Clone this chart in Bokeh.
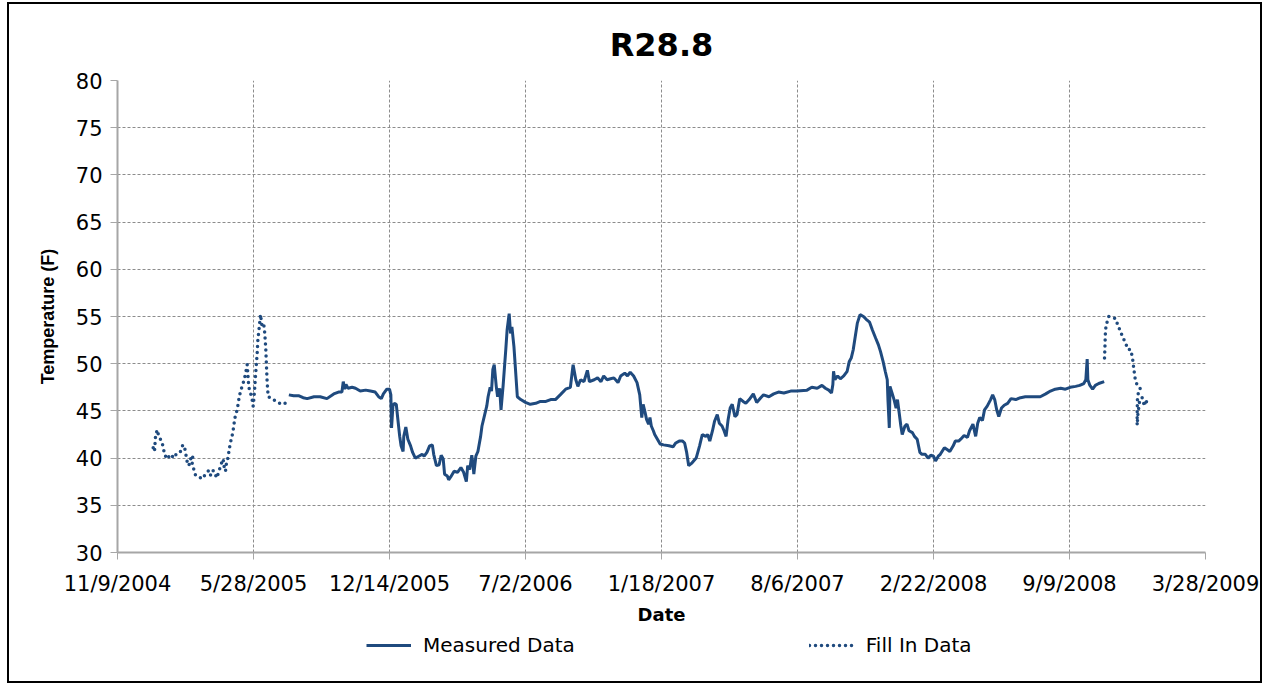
import pandas as pd
from bokeh.plotting import figure
from bokeh.layouts import column
from bokeh.models import FixedTicker, Legend, LegendItem, Range1d
from bokeh.embed import file_html
from bokeh.resources import INLINE

BASE_DATE = "2004-11-09"

x_tick_labels = ["11/9/2004", "5/28/2005", "12/14/2005", "7/2/2006", "1/18/2007",
                 "8/6/2007", "2/22/2008", "9/9/2008", "3/28/2009"]
y_ticks = [30, 35, 40, 45, 50, 55, 60, 65, 70, 75, 80]
series_names = ["Measured Data", "Fill In Data"]

# Fill In Data, first segment (days since 11/9/2004, temperature F)
fill1_days = [52.5, 54.4, 55.9, 58.3, 60.8, 64.7, 67.2, 69.1, 73, 77.9, 82.8, 87.7, 92.6, 96.1, 99,
              100.5, 102.5, 104.9, 107.4, 110.8, 109.8, 112.3, 114.7, 119.6, 124.5, 129.4, 134.3,
              136.8, 139.2, 142.6, 145.6, 149, 151.5, 155.4, 156.4, 158.8, 160.3, 162.3, 165.2,
              167.2, 169.6, 171.1, 173.5, 176, 178.4, 180.9, 183.3, 185.8, 188.2, 190.7, 193.1,
              195.6, 198, 199.5, 201.5, 202.9, 205.4, 206.4, 208.8, 210.3, 212.7, 215.2, 216.6,
              218.1, 219.1, 220.1, 221.6, 227.5, 234.8, 243.7, 250.5]
fill1_temp = [41.1, 40.7, 42.3, 43.0, 42.3, 41.8, 41.2, 40.4, 39.9, 40.4, 40.0, 40.6, 40.7, 41.4, 41.0,
              40.4, 39.6, 39.2, 39.9, 40.3, 39.4, 38.8, 38.2, 38.0, 37.8, 38.3, 38.7,
              38.2, 38.7, 38.6, 37.9, 38.5, 39.2, 39.9, 39.2, 38.6, 39.5, 40.0, 41.3,
              42.0, 42.7, 43.5, 44.6, 45.1, 46.2, 47.1, 47.6, 48.2, 48.9, 49.9, 47.5,
              46.9, 46.2, 45.5, 47.1, 48.7, 51.1, 52.5, 54.1, 55.2, 53.9, 54.1, 53.2,
              51.5, 49.7, 48.0, 46.5, 46.3, 45.9, 45.7, 46.0]

# Measured Data
meas_days = [252, 259, 267, 273, 279, 289, 298, 308, 318, 325, 330, 332, 334, 336, 339, 345, 350,
             357, 365, 372, 379, 384, 388, 391, 396, 400, 402, 403, 405, 407, 410, 412, 415, 417,
             420, 421, 424, 427, 431, 434, 438, 443, 448, 451, 455, 459, 463, 465, 469, 473, 476,
             479, 481, 485, 487, 490, 495, 500, 505, 509, 513, 515, 518, 521, 523, 524, 527, 530,
             534, 536, 540, 543, 545, 548, 550, 552, 554, 557, 559, 562, 564, 567, 571, 573, 576,
             578, 580, 583, 585, 588, 593, 600, 607, 615, 622, 630, 637, 644, 651, 659, 666, 670,
             674, 677, 681, 686, 691, 694, 701, 706, 711, 715, 720, 725, 730, 736, 740, 746, 750,
             754, 759, 764, 768, 771, 773, 776, 778, 781, 783, 785, 788, 790, 794, 798, 803, 811,
             817, 821, 826, 831, 834, 837, 840, 845, 851, 856, 860, 865, 868, 871, 875, 878, 882,
             885, 889, 892, 895, 898, 901, 904, 908, 911, 915, 920, 924, 929, 935, 940, 946, 950,
             958, 965, 972, 980, 990, 999, 1014, 1021, 1029, 1036, 1041, 1046, 1050, 1052, 1053,
             1055, 1059, 1063, 1068, 1073, 1076, 1079, 1082, 1085, 1088, 1092, 1097, 1101, 1106,
             1110, 1115, 1119, 1122, 1126, 1129, 1132, 1133, 1135, 1136, 1139, 1142, 1145, 1147,
             1149, 1152, 1154, 1158, 1161, 1164, 1169, 1172, 1176, 1180, 1183, 1188, 1192, 1196,
             1200, 1203, 1207, 1210, 1216, 1220, 1224, 1229, 1232, 1237, 1240, 1245, 1250, 1253,
             1258, 1262, 1265, 1268, 1272, 1275, 1279, 1284, 1287, 1290, 1293, 1296, 1300, 1304,
             1309, 1314, 1321, 1328, 1335, 1343, 1350, 1357, 1365, 1372, 1379, 1387, 1394, 1401,
             1409, 1415, 1421, 1424, 1426, 1427, 1430, 1434, 1438, 1443, 1451]
meas_temp = [46.7, 46.6, 46.6, 46.4, 46.3, 46.5, 46.5, 46.3, 46.8, 47.0, 47.0, 48.1, 47.3, 47.8, 47.4, 47.5, 47.4,
             47.1, 47.2, 47.1, 47.0, 46.5, 46.3, 46.8, 47.3, 47.3, 46.7, 43.2, 45.5, 45.8, 45.7, 44.3, 42.3, 41.3,
             40.7, 42.3, 43.3, 42.0, 41.3, 40.6, 40.0, 40.2, 40.4, 40.2, 40.6, 41.3, 41.4, 40.4, 39.2, 39.3, 40.3,
             39.9, 38.3, 38.1, 37.7, 38.0, 38.6, 38.5, 39.0, 38.5, 37.5, 39.2, 38.8, 40.3, 39.2, 38.3, 40.2, 40.7,
             42.3, 43.4, 44.6, 45.5, 46.5, 47.5, 47.1, 49.4, 49.9, 47.6, 46.5, 47.4, 45.1, 47.6, 51.5, 53.6, 55.3,
             53.2, 53.9, 51.8, 49.7, 46.5, 46.2, 45.9, 45.7, 45.8, 46.0, 46.0, 46.2, 46.2, 46.7, 47.3, 47.5, 49.9,
             48.3, 47.6, 48.3, 48.1, 49.3, 48.1, 48.3, 48.5, 48.1, 48.7, 48.3, 48.4, 48.5, 48.0, 48.7, 49.0, 48.7,
             49.1, 48.7, 48.0, 46.7, 44.3, 45.7, 44.8, 44.1, 43.6, 44.3, 43.4, 42.9, 42.5, 42.0, 41.5, 41.4, 41.3,
             41.2, 41.6, 41.8, 41.8, 41.6, 40.6, 39.2, 39.5, 40.0, 41.3, 42.5, 42.3, 42.5, 41.8, 42.9, 43.9, 44.6,
             43.7, 43.4, 42.9, 42.3, 44.1, 45.3, 45.7, 44.4, 44.6, 46.3, 46.0, 45.8, 46.2, 46.8, 45.9, 46.4, 46.7,
             46.5, 46.8, 47.0, 46.9, 47.1, 47.1, 47.2, 47.5, 47.4, 47.7, 47.4, 47.2, 46.9, 47.8, 49.2,
             48.3, 48.7, 48.4, 48.7, 49.2, 50.2, 50.6, 51.5, 52.9, 54.3, 55.2, 55.0, 54.7, 54.4,
             53.6, 52.7, 52.0, 51.3, 50.2, 49.2, 48.3, 46.2, 43.2, 47.6, 46.9, 46.2, 45.3, 46.2,
             45.1, 43.4, 42.5, 43.4, 43.6, 42.9, 42.7, 42.3, 42.0, 40.6, 40.4, 40.4, 40.0, 40.3,
             40.2, 39.7, 40.2, 40.4, 41.1, 40.9, 40.7, 41.3, 41.8, 41.8, 42.0, 42.4, 42.2, 42.9,
             43.6, 42.3, 43.7, 44.3, 44.0, 45.1, 45.5, 46.2, 46.7, 46.2, 45.1, 44.4, 45.3, 45.6,
             45.8, 46.3, 46.2, 46.4, 46.5, 46.5, 46.5, 46.5, 46.8, 47.1, 47.3, 47.4, 47.3, 47.5,
             47.6, 47.7, 47.9, 48.3, 50.5, 48.3, 47.7, 47.3, 47.7, 47.9, 48.1]

# Fill In Data, second segment
fill2_days = [1451.5, 1452, 1452.3, 1452.6, 1453, 1454.4, 1457.8, 1462.7, 1467.6, 1471, 1475, 1478.9,
              1482.4, 1485.8, 1489.7, 1492.2, 1493.6, 1494.6, 1496.1, 1497, 1499.5, 1502, 1504.4,
              1502, 1500, 1499.8, 1499.6, 1499.5, 1499.5, 1500.5, 1503.4, 1506.9, 1510.3, 1511.8, 1514.2]
fill2_temp = [50.6, 51.5, 52.2, 52.9, 53.6, 54.2, 55.0, 54.9, 54.8, 54.1, 53.4, 52.7,
              52.2, 51.5, 51.5, 50.8, 50.1, 49.4, 48.7, 48.1, 47.8, 47.6, 47.3,
              47.1, 46.5, 45.8, 45.1, 44.4, 43.5, 44.6, 46.2, 46.4, 45.5, 46.2, 45.8]

base = pd.Timestamp(BASE_DATE)
def to_dt(days):
    return base + pd.to_timedelta(days, unit="D")

tick_dates = pd.to_datetime(x_tick_labels, format="%m/%d/%Y")
tick_ms = [float(t.value // 10**6) for t in tick_dates]

LINE = "#1f4a7e"
GRID = "#8c8c8c"
AXIS = "#a6a6a6"
FONT = "DejaVu Sans"
SOLID = dict(line_color=LINE, line_width=3)
DOTS = dict(line_color=LINE, line_width=3.5, line_dash="0 6", line_cap="round")

p = figure(width=1251, height=623, x_axis_type="datetime", output_backend="svg",
           toolbar_location=None, min_border_left=108, min_border_right=55,
           min_border_top=76, min_border_bottom=75)
p.x_range = Range1d(tick_dates[0], tick_dates[-1])
p.y_range = Range1d(y_ticks[0], y_ticks[-1])
p.outline_line_color = None

p.title.text = "R28.8"
p.title.align = "center"
p.title.text_font = FONT
p.title.text_font_size = "32px"
p.title.text_font_style = "bold"
p.title.text_color = "black"
p.title.standoff = 34

p.line(to_dt(meas_days), meas_temp, **SOLID)
p.line(to_dt(fill1_days), fill1_temp, **DOTS)
p.line(to_dt(fill2_days), fill2_temp, **DOTS)

p.xaxis.ticker = FixedTicker(ticks=tick_ms)
p.xaxis.major_label_overrides = {t: lab for t, lab in zip(tick_ms, x_tick_labels)}
p.yaxis.ticker = FixedTicker(ticks=y_ticks)
p.xgrid.ticker = FixedTicker(ticks=tick_ms)
p.ygrid.ticker = FixedTicker(ticks=y_ticks)

for g in (p.xgrid, p.ygrid):
    g.grid_line_color = GRID
    g.grid_line_dash = "3 2"
    g.grid_line_width = 1

for ax in (p.xaxis, p.yaxis):
    ax.axis_line_color = AXIS
    ax.axis_line_width = 2
    ax.major_tick_line_color = AXIS
    ax.major_tick_out = 7
    ax.major_tick_in = 0
    ax.minor_tick_line_color = None
    ax.major_label_text_font = FONT
    ax.major_label_text_font_size = "21px"
    ax.major_label_text_color = "black"
    ax.axis_label_text_color = "black"
    ax.axis_label_text_font_style = "bold"
    ax.axis_label_text_font_size = "18px"

p.xaxis.axis_label = "Date"
p.xaxis.axis_label_text_font = FONT
p.xaxis.major_label_standoff = 12
p.xaxis.axis_label_standoff = 5
p.yaxis.axis_label = "Temperature (F)"
p.yaxis.axis_label_text_font = "Liberation Sans"
p.yaxis.major_label_standoff = 8
p.yaxis.axis_label_standoff = 15

# Legend strip beneath the chart (legend-only glyphs, no visible data)
NAN = float("nan")
leg = figure(width=1251, height=54, output_backend="svg", toolbar_location=None,
             x_axis_location=None, y_axis_location=None,
             min_border_left=0, min_border_right=0, min_border_top=0, min_border_bottom=0)
leg.outline_line_color = None
leg.xgrid.visible = False
leg.ygrid.visible = False
lr1 = leg.line([NAN], [NAN], **SOLID)
lr2 = leg.line([NAN], [NAN], **DOTS)
legend = Legend(items=[LegendItem(label=series_names[0], renderers=[lr1]),
                       LegendItem(label=series_names[1], renderers=[lr2])],
                orientation="horizontal", location=(249, 24),
                spacing=234, glyph_width=45, label_standoff=12,
                label_text_font=FONT, label_text_font_size="20px", label_text_color="black",
                border_line_color=None, background_fill_alpha=0, padding=3, margin=0)
leg.add_layout(legend, "center")

layout = column(p, leg, spacing=0)
layout.styles = {"border": "2px solid black", "margin-left": "7px", "margin-top": "2px"}
open("out.html", "w").write(file_html(layout, INLINE))
